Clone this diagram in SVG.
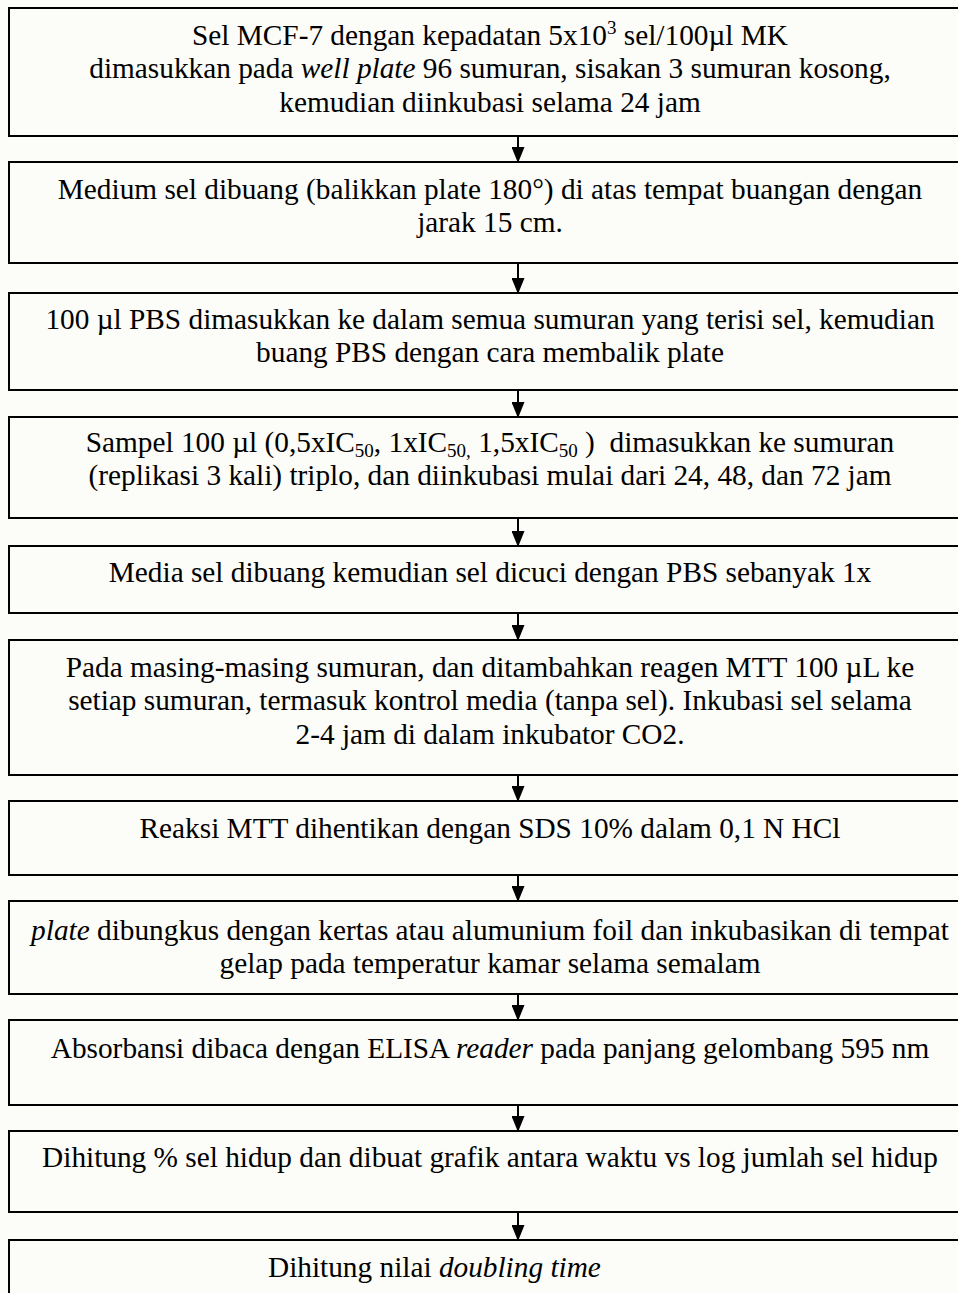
<svg xmlns="http://www.w3.org/2000/svg" width="958" height="1293" viewBox="0 0 958 1293">
<style>
.box{fill:none;stroke:#000;stroke-width:2}
.t{font-family:"Liberation Serif","Times New Roman",serif;font-size:29.3px;fill:#000;text-anchor:middle}
.tl{font-family:"Liberation Serif","Times New Roman",serif;font-size:29.3px;fill:#000}
.i{font-style:italic}
.s{font-size:19px}
.conn{stroke:#000;stroke-width:2;fill:none}
</style>
<defs>
<marker id="ah" markerUnits="userSpaceOnUse" markerWidth="16" markerHeight="13" refX="15" refY="6.5" orient="auto">
<path d="M0,0 L16,6.5 L0,13 z" fill="#000"/>
</marker>
</defs>
<rect x="0" y="0" width="958" height="1293" fill="#fcfcf8"/>
<g id="n1">
<rect class="box" x="9" y="8" width="970" height="128"/>
<text class="t" x="490" y="45">Sel MCF-7 dengan kepadatan 5x10<tspan class="s" dy="-11">3</tspan><tspan dy="11"> sel/100µl MK</tspan></text>
<text class="t" x="490" y="78">dimasukkan pada <tspan class="i">well plate</tspan> 96 sumuran, sisakan 3 sumuran kosong,</text>
<text class="t" x="490" y="112">kemudian diinkubasi selama 24 jam</text>
</g>
<g id="n2">
<rect class="box" x="9" y="162" width="970" height="101"/>
<text class="t" x="490" y="199">Medium sel dibuang (balikkan plate 180°) di atas tempat buangan dengan</text>
<text class="t" x="490" y="232">jarak 15 cm.</text>
</g>
<g id="n3">
<rect class="box" x="9" y="293" width="970" height="97"/>
<text class="t" x="490" y="329">100 µl PBS dimasukkan ke dalam semua sumuran yang terisi sel, kemudian</text>
<text class="t" x="490" y="362">buang PBS dengan cara membalik plate</text>
</g>
<g id="n4">
<rect class="box" x="9" y="417" width="970" height="101"/>
<text class="t" x="490" y="452" xml:space="preserve">Sampel 100 µl (0,5xIC<tspan class="s" dy="5">50</tspan><tspan dy="-5">, 1xIC</tspan><tspan class="s" dy="5">50,</tspan><tspan dy="-5"> 1,5xIC</tspan><tspan class="s" dy="5">50</tspan><tspan dy="-5"> )  dimasukkan ke sumuran</tspan></text>
<text class="t" x="490" y="485">(replikasi 3 kali) triplo, dan diinkubasi mulai dari 24, 48, dan 72 jam</text>
</g>
<g id="n5">
<rect class="box" x="9" y="546" width="970" height="67"/>
<text class="t" x="490" y="582">Media sel dibuang kemudian sel dicuci dengan PBS sebanyak 1x</text>
</g>
<g id="n6">
<rect class="box" x="9" y="640" width="970" height="135"/>
<text class="t" x="490" y="677">Pada masing-masing sumuran, dan ditambahkan reagen MTT 100 µL ke</text>
<text class="t" x="490" y="710">setiap sumuran, termasuk kontrol media (tanpa sel). Inkubasi sel selama</text>
<text class="t" x="490" y="744">2-4 jam di dalam inkubator CO2.</text>
</g>
<g id="n7">
<rect class="box" x="9" y="801" width="970" height="74"/>
<text class="t" x="490" y="838">Reaksi MTT dihentikan dengan SDS 10% dalam 0,1 N HCl</text>
</g>
<g id="n8">
<rect class="box" x="9" y="901" width="970" height="93"/>
<text class="t" x="490" y="940"><tspan class="i">plate</tspan> dibungkus dengan kertas atau alumunium foil dan inkubasikan di tempat</text>
<text class="t" x="490" y="973">gelap pada temperatur kamar selama semalam</text>
</g>
<g id="n9">
<rect class="box" x="9" y="1020" width="970" height="85"/>
<text class="t" x="490" y="1058">Absorbansi dibaca dengan ELISA <tspan class="i">reader</tspan> pada panjang gelombang 595 nm</text>
</g>
<g id="n10">
<rect class="box" x="9" y="1131" width="970" height="81"/>
<text class="t" x="490" y="1167">Dihitung % sel hidup dan dibuat grafik antara waktu vs log jumlah sel hidup</text>
</g>
<g id="n11">
<rect class="box" x="9" y="1240" width="970" height="80"/>
<text class="tl" x="268" y="1277">Dihitung nilai <tspan class="i">doubling time</tspan></text>
</g>
<g id="connectors">
<line class="conn" x1="518" y1="136" x2="518" y2="162" marker-end="url(#ah)"/>
<line class="conn" x1="518" y1="263" x2="518" y2="293" marker-end="url(#ah)"/>
<line class="conn" x1="518" y1="390" x2="518" y2="417" marker-end="url(#ah)"/>
<line class="conn" x1="518" y1="518" x2="518" y2="546" marker-end="url(#ah)"/>
<line class="conn" x1="518" y1="613" x2="518" y2="640" marker-end="url(#ah)"/>
<line class="conn" x1="518" y1="775" x2="518" y2="801" marker-end="url(#ah)"/>
<line class="conn" x1="518" y1="875" x2="518" y2="901" marker-end="url(#ah)"/>
<line class="conn" x1="518" y1="994" x2="518" y2="1020" marker-end="url(#ah)"/>
<line class="conn" x1="518" y1="1105" x2="518" y2="1131" marker-end="url(#ah)"/>
<line class="conn" x1="518" y1="1212" x2="518" y2="1240" marker-end="url(#ah)"/>
</g>
</svg>
